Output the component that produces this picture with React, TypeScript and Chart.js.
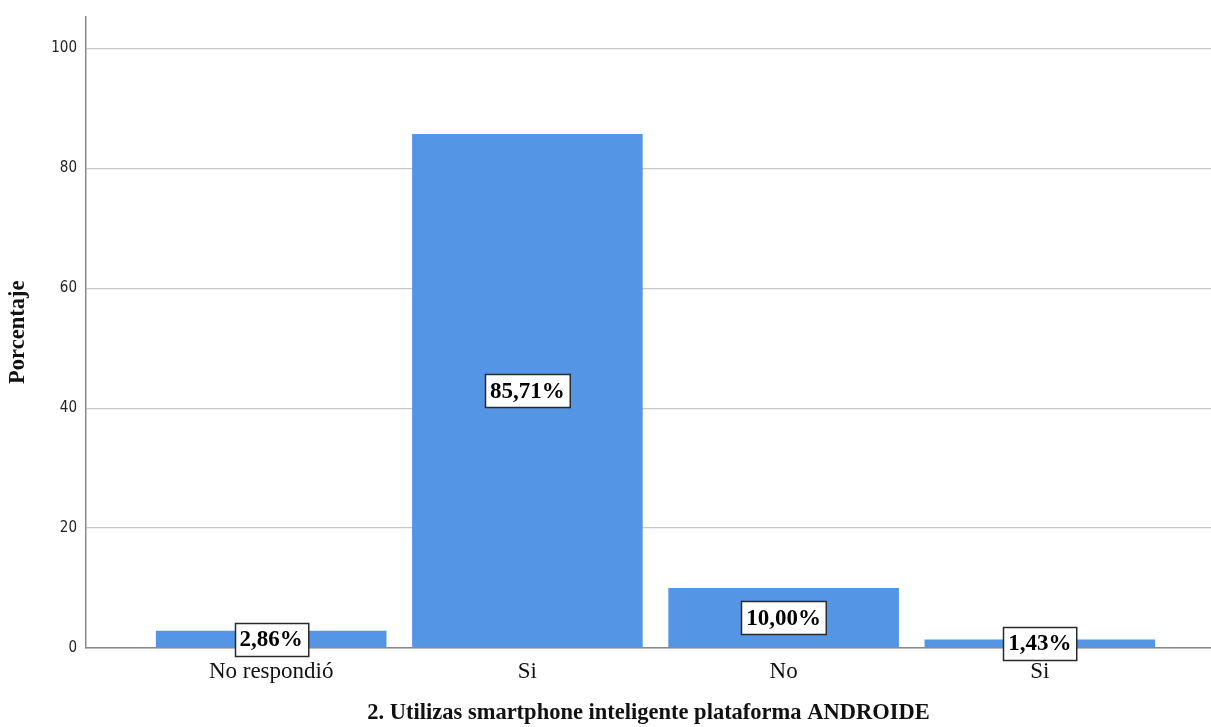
import React, { useEffect, useRef } from "react";
import { Chart, registerables } from "chart.js";

Chart.register(...registerables);

const categories = ["No respondió", "Si", "No", "Si"];
const percentValues = [2.86, 85.71, 10.0, 1.43];
const valueLabels = ["2,86%", "85,71%", "10,00%", "1,43%"];
const yTickValues = [0, 20, 40, 60, 80, 100];
const xTitle = "2. Utilizas smartphone inteligente plataforma ANDROIDE";
const yTitle = "Porcentaje";

const SERIF = "'Liberation Serif', 'Times New Roman', serif";

const boxLabelPlugin = {
  id: "boxLabels",
  afterDatasetsDraw(chart: any) {
    const ctx = chart.ctx;
    const meta = chart.getDatasetMeta(0);
    ctx.save();
    ctx.font = `bold 23px ${SERIF}`;
    ctx.textAlign = "center";
    ctx.textBaseline = "middle";
    meta.data.forEach((bar: any, i: number) => {
      const text = valueLabels[i];
      const cx = bar.x;
      const cy = (bar.y + bar.base) / 2;
      const w = ctx.measureText(text).width + 10;
      const h = 33;
      const x0 = Math.round(cx - w / 2) + 0.5;
      const y0 = Math.round(cy - h / 2) + 0.5;
      ctx.fillStyle = "#ffffff";
      ctx.fillRect(x0, y0, w, h);
      ctx.strokeStyle = "#2a2a2a";
      ctx.lineWidth = 1.5;
      ctx.strokeRect(x0, y0, w, h);
      ctx.fillStyle = "#000000";
      ctx.fillText(text, cx, cy + 1);
    });
    ctx.restore();
  },
};

export default function App() {
  const ref = useRef<HTMLCanvasElement | null>(null);

  useEffect(() => {
    if (!ref.current) return;
    const chart = new Chart(ref.current, {
      type: "bar",
      data: {
        labels: categories,
        datasets: [
          {
            data: percentValues.map((v, i) => ({ x: i, y: v })) as any,
            backgroundColor: "#5595E5",
            borderWidth: 0,
            barPercentage: 0.9,
            categoryPercentage: 1,
          },
        ],
      },
      options: {
        animation: false,
        responsive: false,
        maintainAspectRatio: false,
        layout: { padding: { top: 15, right: 0, left: 0, bottom: 0 } },
        plugins: {
          legend: { display: false },
          tooltip: { enabled: false },
        },
        scales: {
          x: {
            type: "linear",
            offset: false,
            min: -0.7227,
            max: 3.668,
            grid: { display: false, drawTicks: false, offset: false },
            border: { display: true, color: "#8a8a8a", width: 1.5 },
            afterBuildTicks: (scale: any) => {
              scale.ticks = categories.map((_, i) => ({ value: i }));
            },
            afterFit: (scale: any) => {
              scale.height = 79;
            },
            ticks: {
              autoSkip: false,
              maxRotation: 0,
              padding: 10,
              color: "#111",
              font: { family: SERIF, size: 23 },
              callback: (v: any) => categories[Number(v)] ?? "",
            },
            title: {
              display: true,
              text: xTitle,
              color: "#111",
              font: { family: SERIF, size: 22.5, weight: "bold" },
              padding: { top: 0, bottom: 0 },
            },
          },
          y: {
            min: 0,
            max: 105.3,
            grid: { color: "#c8c8c8", lineWidth: 1.2, drawTicks: false },
            border: { display: true, color: "#8a8a8a", width: 1.5 },
            afterBuildTicks: (scale: any) => {
              scale.ticks = yTickValues.map((v) => ({ value: v }));
            },
            afterFit: (scale: any) => {
              scale.width = 86;
            },
            ticks: {
              padding: 9,
              color: "#222",
              font: { family: "'DejaVu Sans Condensed', 'DejaVu Sans', sans-serif", size: 15, lineHeight: 1 },
            },
            title: {
              display: true,
              text: yTitle,
              color: "#111",
              font: { family: SERIF, size: 22.5, weight: "bold" },
              padding: { top: 5, bottom: 0 },
            },
          },
        },
      },
      plugins: [boxLabelPlugin],
    });
    return () => chart.destroy();
  }, []);

  return (
    <div style={{ position: "absolute", left: 0, top: 0, width: 1211, height: 727, background: "#fff" }}>
      <canvas ref={ref} width={1211} height={727} style={{ width: 1211, height: 727 }} />
    </div>
  );
}
